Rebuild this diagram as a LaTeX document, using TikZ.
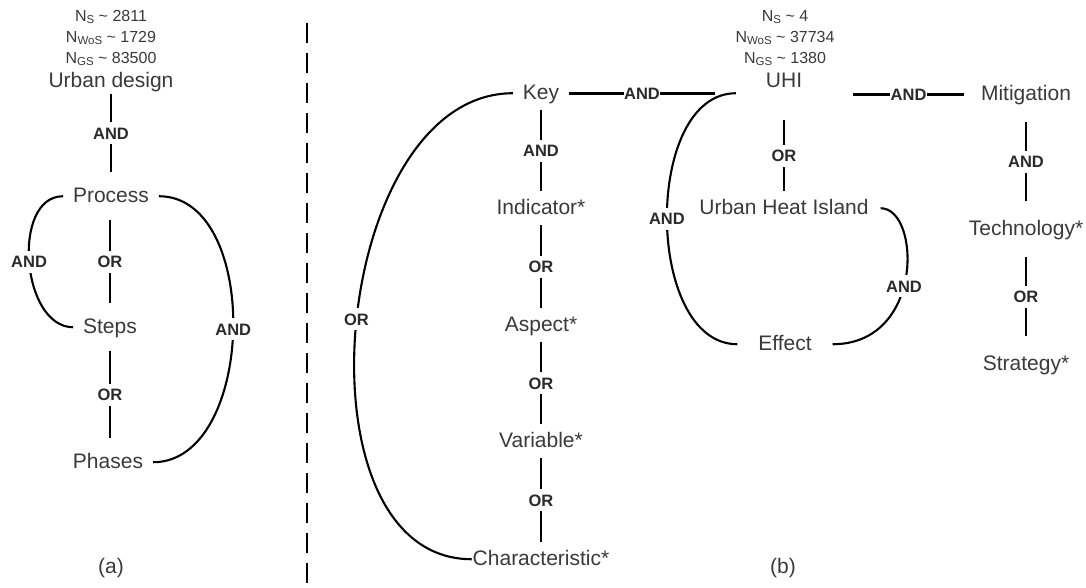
\documentclass[tikz,border=0pt]{standalone}
\usepackage{fontspec}
\setmainfont{Liberation Sans}
\usetikzlibrary{calc}
\definecolor{txtc}{RGB}{58,58,58}
\definecolor{lblc}{RGB}{42,42,42}
\newcommand{\nsb}[1]{N\raisebox{-2.5pt}{\fontsize{11.5}{12}\selectfont #1}}
\begin{document}
\begin{tikzpicture}[x=1pt,y=-1pt,
  txt/.style={font=\fontsize{21}{25}\selectfont, text=txtc, inner sep=0pt, outer xsep=10pt, outer ysep=7pt, text height=15.75pt, text depth=4.2pt, anchor=base},
  stat/.style={font=\fontsize{16}{19}\selectfont, text=txtc, inner sep=0pt, anchor=base},
  lbl/.style={font=\bfseries\fontsize{16.5}{18}\selectfont, text=lblc, fill=white, inner xsep=1pt, inner ysep=5pt, text height=12pt, text depth=0pt},
  hlbl/.style={lbl, inner xsep=0.3pt, inner ysep=3pt},
  vl/.style={line width=2.8pt},
  cl/.style={line width=2.1pt},
  sep/.style={line width=2.6pt, dash pattern=on 20pt off 10pt},
]
\fill[white] (0,0) rectangle (1086,587);
\useasboundingbox (0,0) rectangle (1086,587);

% ---- panel (a)
\node[stat] (nsa) at (111,21) {\nsb{S} \textasciitilde{} 2811};
\node[stat] (nwa) at (111,42) {\nsb{WoS} \textasciitilde{} 1729};
\node[stat] (nga) at (111,63) {\nsb{GS} \textasciitilde{} 83500};
\node[txt, outer ysep=3pt] (ud) at (111,87) {Urban design};
\node[txt, outer ysep=14pt] (proc) at (111,202) {Process};
\node[txt, outer ysep=14pt] (steps) at (110,333) {Steps};
\node[txt, outer ysep=14pt] (phases) at (108,468) {Phases};
\node[txt] (la) at (111,573) {(a)};

\draw[vl] (ud) -- node[lbl]{AND} (proc);
\draw[vl] (proc.south -| steps) -- node[lbl]{OR} (steps);
\draw[vl] (steps) -- node[lbl]{OR} (steps |- phases.north);
\draw[cl] (proc.west) .. controls +(-52,0) and +(-52,0) .. (steps.west) node[pos=0.5,lbl]{AND};
\draw[cl] (proc.east) .. controls +(103,0) and +(103,0) .. (phases.east) node[pos=0.5,lbl]{AND};

% ---- separator
\draw[sep] (307,23) -- (307,587);

% ---- panel (b)
\node[stat] (nsb) at (785,21) {\nsb{S} \textasciitilde{} 4};
\node[stat] (nwb) at (785,42) {\nsb{WoS} \textasciitilde{} 37734};
\node[stat] (ngb) at (785,63) {\nsb{GS} \textasciitilde{} 1380};
\node[txt, outer xsep=51pt, outer ysep=29pt] (uhi) at (784,87) {UHI};
\node[txt] (key) at (541,99) {Key};
\node[txt] (ind) at (541,214) {Indicator*};
\node[txt] (asp) at (541,331) {Aspect*};
\node[txt] (var) at (541,447) {Variable*};
\node[txt, outer xsep=1pt] (chr) at (541,565) {Characteristic*};
\node[txt, outer xsep=12pt] (uhii) at (784,214) {Urban Heat Island};
\node[txt, outer xsep=21pt] (eff) at (785,350) {Effect};
\node[txt, outer xsep=17pt, outer ysep=18pt] (mit) at (1026,100) {Mitigation};
\node[txt, outer ysep=18pt] (tech) at (1026,235) {Technology*};
\node[txt, outer ysep=18pt] (strat) at (1026,370) {Strategy*};
\node[txt] (lb) at (783,573) {(b)};

\draw[vl] (key) -- node[lbl]{AND} (ind);
\draw[vl] (ind) -- node[lbl]{OR} (asp);
\draw[vl] (asp) -- node[lbl]{OR} (var);
\draw[vl] (var) -- node[lbl]{OR} (chr);
\draw[cl] (key.west) .. controls +(-182,0) and +(-182,0) .. (chr.west) node[pos=0.49,lbl]{OR};
\draw[vl] (key.east) -- node[hlbl]{AND} (key.east -| uhi.west);
\draw[vl] (uhi) -- node[lbl]{OR} (uhii);
\draw[cl] ([shift={(21,12)}]uhi.west) .. controls +(-93,0) and +(-93,0) .. (eff.west) node[pos=0.5,lbl]{AND};
\draw[cl] (uhii.east) .. controls +(40,0) and +(92,0) .. (eff.east) node[pos=0.55,lbl]{AND};
\draw[vl] (mit.west -| uhi.east) -- node[hlbl]{AND} (mit.west);
\draw[vl] (mit) -- node[lbl]{AND} (tech);
\draw[vl] (tech) -- node[lbl]{OR} (strat);
\end{tikzpicture}
\end{document}
